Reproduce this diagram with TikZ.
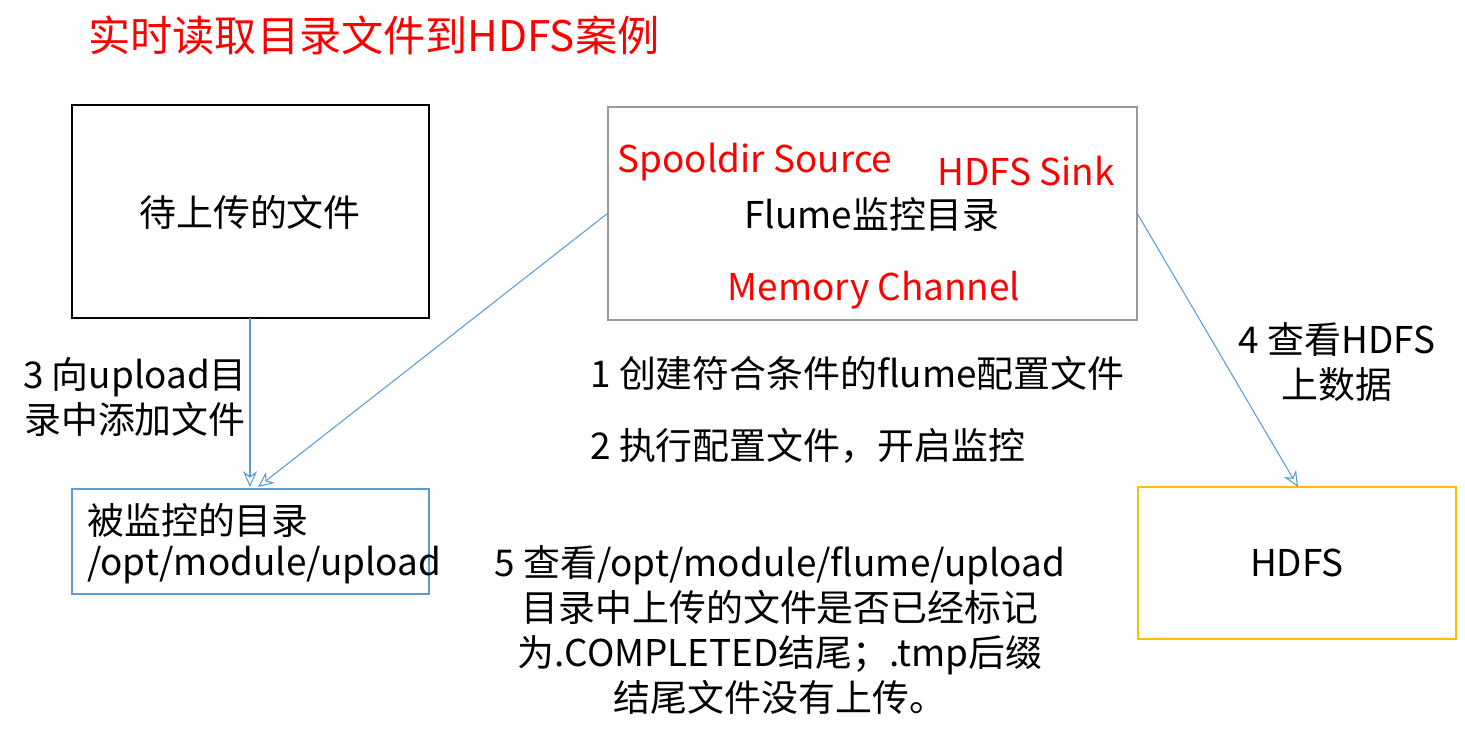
\documentclass[tikz,border=0pt]{standalone}
\usepackage{fontspec}
\setmainfont{Noto Sans CJK SC}
\usetikzlibrary{arrows.meta}
\definecolor{myblue}{HTML}{5B9BD5}
\definecolor{mygold}{HTML}{FFC000}
\tikzset{
  txt/.style={font=\fontsize{21}{25.6}\selectfont, inner sep=0pt, align=center},
  redtxt/.style={txt, text=red},
  arr/.style={draw=myblue, line width=0.6pt, -{Stealth[open, length=9pt, width=8pt]}}
}
\begin{document}
\begin{tikzpicture}[x=0.02cm,y=-0.02cm]
\useasboundingbox (0,0) rectangle (1465,735);
\node[redtxt, font=\fontsize{24}{30}\selectfont, anchor=west] (title) at (88,35) {实时读取目录文件到HDFS案例};
\draw[black, line width=0.8pt] (72,105) rectangle (429,318);
\node[txt] (file) at (250,212) {待上传的文件};
\coordinate (fileb) at (250,318);
\draw[black!40, line width=0.8pt] (608,107) rectangle (1137,320);
\coordinate (flumel) at (608,213);
\coordinate (flumer) at (1137,213);
\node[redtxt] (src) at (755,162) {Spooldir Source};
\node[redtxt] (sink) at (1026,171) {HDFS Sink};
\node[txt] (flume) at (872,214) {Flume监控目录};
\node[redtxt] (mem) at (874,290) {Memory Channel};
\draw[myblue, line width=0.8pt] (72,489) rectangle (429,594);
\node[txt, anchor=west] (dir1) at (87,520) {被监控的目录};
\node[txt, anchor=west] (dir2) at (87,565) {/opt/module/upload};
\coordinate (dirt1) at (250,487);
\coordinate (dirt2) at (258,487);
\draw[mygold, line width=0.8pt] (1138,487) rectangle (1456,639);
\node[txt] (hdfs) at (1297,563) {HDFS};
\coordinate (hdfst) at (1298,487);
\draw[arr] (fileb) -- (dirt1);
\draw[arr] (flumel) -- (dirt2);
\draw[arr] (flumer) -- (hdfst);
\node[txt] (s3) at (135,397) {3 向upload目\\录中添加文件};
\node[txt, anchor=west] (s1) at (590,373) {1 创建符合条件的flume配置文件};
\node[txt, anchor=west] (s2) at (590,446) {2 执行配置文件，开启监控};
\node[txt] (s4) at (1337,362) {4 查看HDFS\\上数据};
\node[txt] (s5) at (780,630) {5 查看/opt/module/flume/upload\\目录中上传的文件是否已经标记\\为.COMPLETED结尾；.tmp后缀\\结尾文件没有上传。};
\end{tikzpicture}
\end{document}
